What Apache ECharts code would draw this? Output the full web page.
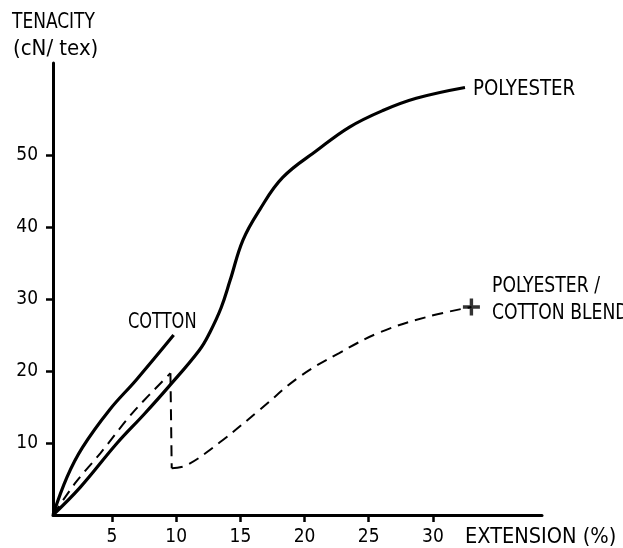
<!DOCTYPE html>
<html>
<head>
<meta charset="utf-8">
<script src="https://cdn.jsdelivr.net/npm/echarts@6/dist/echarts.min.js"></script>
<style>
html,body{margin:0;padding:0;background:#fff;}
#chart{width:623px;height:548px;}
</style>
</head>
<body>
<div id="chart"></div>
<script>
// Data (x = extension %, y = tenacity cN/tex)
const xTicks = [5, 10, 15, 20, 25, 30];
const yTicks = [10, 20, 30, 40, 50];
const polyester = [[0.4,0],[2.5,3.8],[5.4,10.0],[7.5,14.0],[9.4,17.8],[11.8,22.9],[12.6,25.3],[13.5,28.8],[14.2,32.6],[15.2,38.2],[16.5,42.4],[18.3,46.9],[21.0,50.7],[23.5,53.9],[26.1,56.2],[28.7,57.9],[32.5,59.4]];
const cotton = [[0.4,0],[1.5,5.3],[2.7,9.4],[4.8,14.6],[6.9,18.8],[9.8,25.0]];
const blendRise = [[0.4,0],[2.2,4.6],[4.1,8.6],[6.6,14.2],[9.55,19.7]];
const blendDrop = [[9.55,19.7],[9.65,6.5]];
const blendRecovery = [[9.65,6.5],[10.8,6.9],[13.4,10.1],[16.5,14.6],[19.6,19.2],[22.7,22.5],[25.9,25.4],[29.5,27.5],[33.0,28.9]];
const blendBreak = [[33.0,28.9]];

const FONT = '"DejaVu Sans Condensed","DejaVu Sans",sans-serif';
const FS = 22;
const chart = echarts.init(document.getElementById('chart'), null, {renderer:'canvas'});
const axisStyle = {lineStyle:{color:'#000', width:3}};
const plus = 'path://M4,0h2v4h4v2h-4v4h-2v-4h-4v-2h4z';
const txt = (x, y, s, sx) => ({type:'text', x:x, y:y, scaleX:sx, scaleY:1, style:{text:s, font:FS + 'px ' + FONT, fill:'#000', textAlign:'left', textVerticalAlign:'middle'}});

chart.setOption({
  animation:false,
  backgroundColor:'#fff',
  grid:{left:53, top:63, right:81, bottom:33, containLabel:false},
  xAxis:{type:'value', min:0.4, max:38.5,
    axisLine:axisStyle, splitLine:{show:false},
    axisTick:{show:true, customValues:xTicks, length:7, lineStyle:{color:'#000', width:2.5}},
    axisLabel:{customValues:xTicks, margin:13, color:'#000', fontSize:19, fontFamily:FONT}},
  yAxis:{type:'value', min:0, max:62.8,
    axisLine:{show:true, lineStyle:{color:'#000', width:3}}, splitLine:{show:false},
    axisTick:{show:true, customValues:yTicks, length:7, lineStyle:{color:'#000', width:2.5}},
    axisLabel:{customValues:yTicks, margin:15, color:'#000', fontSize:19, fontFamily:FONT}},
  series:[
    {type:'line', data:polyester, smooth:0.4, showSymbol:false, lineStyle:{color:'#000', width:3.2}},
    {type:'line', data:cotton, smooth:0.4, showSymbol:false, lineStyle:{color:'#000', width:3.2}},
    {type:'line', data:blendRise, smooth:0.3, showSymbol:false, lineStyle:{color:'#000', width:2, type:[11,7]}},
    {type:'line', data:blendDrop, smooth:false, showSymbol:false, lineStyle:{color:'#000', width:2, type:[11,7]}},
    {type:'line', data:blendRecovery, smooth:0.4, showSymbol:false, lineStyle:{color:'#000', width:2, type:[11,7]}},
    {type:'scatter', data:blendBreak, symbol:plus, symbolSize:17, itemStyle:{color:'#000'}}
  ],
  graphic:[
    txt(12, 22, 'TENACITY', 0.86),
    txt(13, 49, '(cN/ tex)', 1.0),
    txt(465, 537, 'EXTENSION (%)', 0.98),
    txt(128, 322, 'COTTON', 0.82),
    txt(473, 89, 'POLYESTER', 0.92),
    txt(492, 286, 'POLYESTER /', 0.87),
    txt(492, 313, 'COTTON BLEND', 0.87)
  ]
});
</script>
</body>
</html>
